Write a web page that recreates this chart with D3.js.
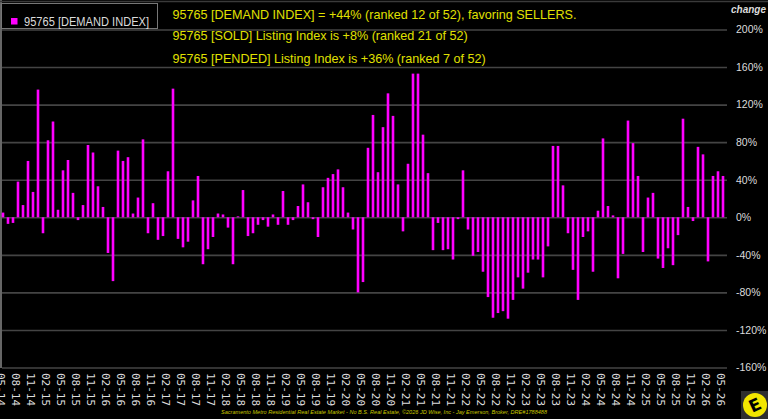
<!DOCTYPE html>
<html>
<head>
<meta charset="utf-8">
<script src="https://cdn.jsdelivr.net/npm/d3@7"></script>
<style>
  body { margin: 0; background: #000; }
  svg { display: block; }
</style>
</head>
<body>
<script>
let w = 768;
let h = 419;

// monthly demand index change, 05-14 .. 05-26
let values = [
  5, -7, -6, 38, 13, 60, 27, 136, -17, 82, 102, 8, 50, 61, 26, -3, 13, 77, 69, 33,
  11, -38, -68, 71, 60, 64, 4, 21, 83, -17, 15, -24, -20, 49, 137, -23, -32, -26, 18, 44,
  -50, -34, -21, 4, 3, -11, -50, 1, 29, -20, -17, -8, -3, -10, 3, -8, 28, -8, -3, 12,
  35, 16, -2, -21, 32, 42, 46, 51, 32, 5, -13, -80, -69, 74, 109, 48, 96, 132,
  108, 35, -15, 57, 153, 153, 88, 47, -35, -6, -35, -34, -45, -2, 50, -13, -41, -37, -58, -85,
  -107, -102, -100, -108, -88, -64, -76, -59, -45, -45, -64, -31, 76, 76, 34, -17, -56, -88,
  -21, -15, -58, 7, 84, 12, 2, -65, -39, 103, 79, 44, -37, 21, 26, -44, -54, -33, -51, -19,
  105, 11, -4, 75, 67, -47, 44, 49, 44
];

let fmt = d3.timeFormat('%m-%y');
let months = d3.timeMonth.range(new Date(2014, 4, 1), new Date(2026, 5, 1)).map(fmt);
let dataset = months.map((m, i) => [m, values[i]]);

// every third month is labelled
let tickLabels = months.filter((m, i) => i % 3 === 0);
let yTicks = [200, 160, 120, 80, 40, 0, -40, -80, -120, -160];

let titleLines = [
  '95765 [DEMAND INDEX] = +44% (ranked 12 of 52), favoring SELLERS.',
  '95765 [SOLD] Listing Index is +8% (ranked 21 of 52)',
  '95765 [PENDED] Listing Index is +36% (ranked 7 of 52)'
];

let xScale = d3.scaleBand()
  .domain(months)
  .range([0.5, 725.5])
  .paddingInner(0.48)
  .paddingOuter(0.24);

let yScale = d3.scaleLinear()
  .domain([-160, 200])
  .range([367.5, 29.5]);

let svg = d3.select('body')
  .append('svg')
  .attr('width', w)
  .attr('height', h)
  .style('background', '#000');

// gridlines
let yAxis = d3.axisRight(yScale)
  .tickValues(yTicks)
  .tickSize(725)
  .tickFormat((d) => d + '%');

let gy = svg.append('g')
  .attr('transform', 'translate(2, 0)')
  .call(yAxis);
gy.select('.domain').remove();
gy.selectAll('.tick line')
  .attr('stroke', '#444')
  .attr('stroke-width', 1.6);
gy.selectAll('.tick text')
  .attr('x', 734)
  .attr('fill', '#dcdcdc')
  .attr('font-family', 'Liberation Sans, Arial, sans-serif')
  .attr('font-size', '10.5px');

// left border and top line
svg.append('line')
  .attr('x1', 1).attr('x2', 1)
  .attr('y1', 0).attr('y2', 368)
  .attr('stroke', '#888')
  .attr('stroke-width', 1.5);
svg.append('line')
  .attr('x1', 0).attr('x2', 768)
  .attr('y1', 1.5).attr('y2', 1.5)
  .attr('stroke', '#3a3a3a')
  .attr('stroke-width', 1.5);

svg.append('text')
  .text('change')
  .attr('x', 731)
  .attr('y', 13)
  .attr('font-family', 'Liberation Sans, Arial, sans-serif')
  .attr('font-size', '10px')
  .attr('font-weight', 'bold')
  .attr('font-style', 'italic')
  .attr('fill', '#dcdcdc');

// bars
svg.selectAll('rect.bar')
  .data(dataset)
  .enter()
  .append('rect')
  .attr('class', 'bar')
  .attr('x', (d) => xScale(d[0]))
  .attr('width', xScale.bandwidth())
  .attr('y', (d) => yScale(Math.max(0, d[1])))
  .attr('height', (d) => Math.abs(yScale(d[1]) - yScale(0)))
  .attr('fill', '#f0f');

// x labels (rotated)
let xAxis = d3.axisBottom(xScale)
  .tickValues(tickLabels)
  .tickSize(0);

let gx = svg.append('g')
  .attr('transform', 'translate(-2, 373)')
  .call(xAxis);
gx.select('.domain').remove();
gx.selectAll('.tick text')
  .attr('transform', 'rotate(90)')
  .attr('x', 0)
  .attr('y', 0)
  .attr('dy', '0.33em')
  .attr('text-anchor', 'start')
  .attr('fill', '#dcdcdc')
  .attr('font-family', 'DejaVu Sans Mono, monospace')
  .attr('font-size', '11px');

// legend
svg.append('rect')
  .attr('x', 1.5).attr('y', 3.5)
  .attr('width', 156).attr('height', 25)
  .attr('fill', '#000')
  .attr('stroke', '#777');
svg.append('rect')
  .attr('x', 11).attr('y', 18)
  .attr('width', 6.5).attr('height', 6.5)
  .attr('fill', '#f0f');
svg.append('text')
  .text('95765 [DEMAND INDEX]')
  .attr('x', 24)
  .attr('y', 26)
  .attr('textLength', 125)
  .attr('lengthAdjust', 'spacingAndGlyphs')
  .attr('font-family', 'Liberation Sans, Arial, sans-serif')
  .attr('font-size', '12px')
  .attr('fill', '#dcdcdc');

// headline
svg.selectAll('text.title')
  .data(titleLines)
  .enter()
  .append('text')
  .attr('class', 'title')
  .text((d) => d)
  .attr('x', 172.5)
  .attr('y', (d, i) => [18.5, 40, 62.5][i])
  .attr('font-family', 'Liberation Sans, Arial, sans-serif')
  .attr('font-size', '12.6px')
  .attr('fill', '#e0e000');

// footer
svg.append('text')
  .text('Sacramento Metro Residential Real Estate Market - No B.S. Real Estate, \u00a92026 JD Wise, Inc - Jay Emerson, Broker, DRE#1788488')
  .attr('x', 221)
  .attr('y', 414)
  .attr('textLength', 326)
  .attr('lengthAdjust', 'spacingAndGlyphs')
  .attr('font-family', 'Liberation Sans, Arial, sans-serif')
  .attr('font-size', '6px')
  .attr('font-style', 'italic')
  .attr('fill', '#c8c800');

// logo
svg.append('rect')
  .attr('x', 741).attr('y', 391)
  .attr('width', 27).attr('height', 28)
  .attr('fill', '#2e2e2e');
svg.append('circle')
  .attr('cx', 755).attr('cy', 405)
  .attr('r', 12)
  .attr('fill', '#f2e600');
svg.append('text')
  .text('E')
  .attr('x', 755)
  .attr('y', 405)
  .attr('dy', '0.36em')
  .attr('text-anchor', 'middle')
  .attr('transform', 'rotate(-25, 755, 405)')
  .attr('font-family', 'DejaVu Sans, sans-serif')
  .attr('font-weight', 'bold')
  .attr('font-size', '17px')
  .attr('fill', '#000');
</script>
</body>
</html>
